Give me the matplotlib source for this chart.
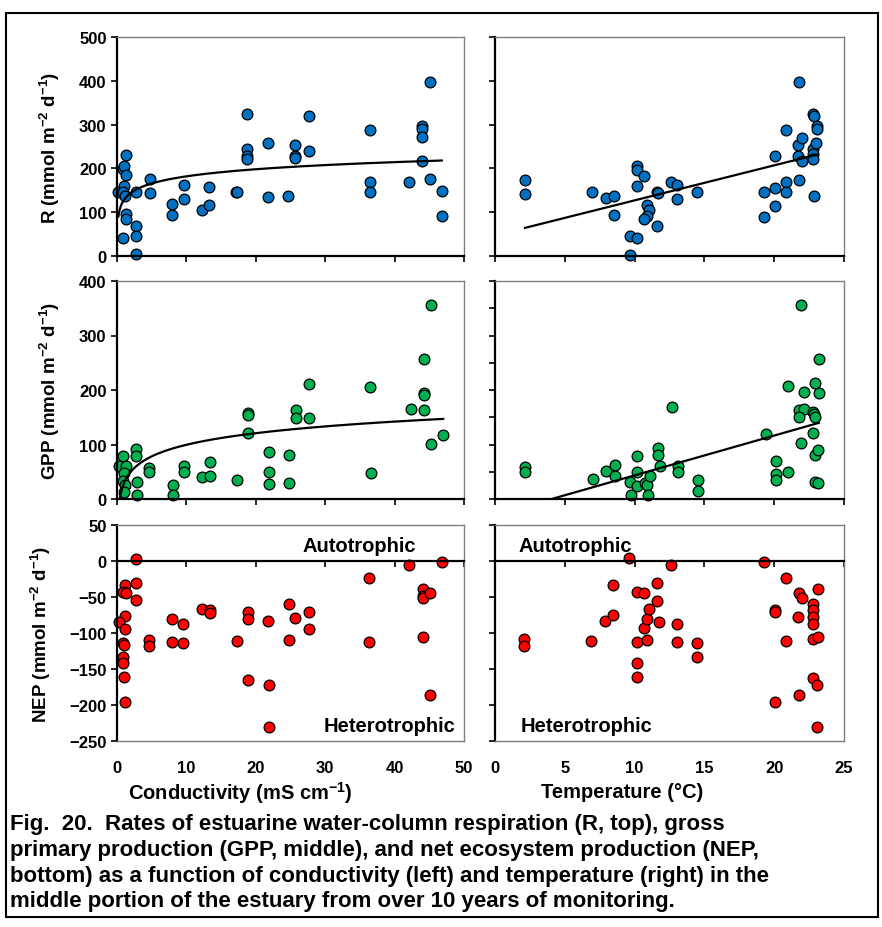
import numpy as np
import matplotlib.pyplot as plt
from matplotlib.patches import Rectangle

plt.rcParams['font.family'] = ['Liberation Sans', 'DejaVu Sans']
plt.rcParams['font.weight'] = 'bold'
plt.rcParams['axes.labelweight'] = 'bold'
plt.rcParams['mathtext.default'] = 'regular'

# ---- data ----
# R vs conductivity
r_cond = [0.2, 0.8, 1.0, 1.3, 1.3, 1.0, 0.9, 1.2, 1.3, 1.3, 0.8, 2.7, 2.8, 2.8, 2.8, 4.7, 4.7,
          7.9, 7.9, 9.6, 9.6, 12.3, 13.3, 13.3, 17.2, 17.3, 18.8, 18.8, 18.8, 18.8, 21.8, 21.7,
          24.7, 25.6, 25.6, 25.6, 27.7, 27.7, 36.4, 36.4, 36.4, 42.1, 44.0, 44.0, 44.0, 44.0,
          45.1, 45.1, 46.8, 46.8]
r_cond_val = [145, 199, 206, 231, 185, 160, 147, 136, 96, 84, 40, 145, 69, 46, 5, 176, 143,
              119, 94, 162, 131, 106, 157, 117, 147, 145, 324, 244, 229, 222, 258, 134,
              138, 253, 229, 224, 320, 240, 288, 170, 147, 170, 297, 290, 271, 218,
              398, 176, 149, 91]

# R vs temperature
r_temp = [2.15, 2.15, 6.93, 7.93, 8.52, 8.52, 9.67, 9.67, 10.15, 10.15, 10.15, 10.2, 10.7,
          10.87, 11.03, 10.87, 10.7, 11.63, 11.7, 11.63, 12.6, 13.04, 13.04, 14.45, 19.3, 19.3,
          20.06, 20.06, 20.06, 20.85, 20.85, 20.85, 21.73, 21.73, 21.8, 21.8, 21.97, 21.97,
          22.76, 22.85, 22.76, 22.76, 22.76, 22.85, 23.0, 23.1, 23.1]
r_temp_val = [173, 142, 147, 132, 137, 94, 45, 2, 206, 196, 160, 40, 183,
              117, 105, 92, 84, 145, 143, 68, 170, 162, 130, 147, 147, 88,
              229, 155, 115, 288, 170, 147, 253, 228, 398, 174, 269, 216,
              324, 319, 244, 232, 221, 138, 257, 296, 290]

# GPP vs conductivity
g_cond = [0.34, 0.82, 1.3, 1.0, 0.82, 1.2, 1.0, 2.8, 2.8, 2.9, 2.9, 4.65, 4.65, 8.0, 8.0,
          9.6, 9.6, 12.3, 13.4, 13.4, 17.3, 18.9, 18.9, 18.9, 21.9, 21.9, 21.9, 24.8, 24.8,
          25.8, 25.8, 27.7, 27.7, 36.5, 36.6, 42.3, 44.2, 44.2, 44.2, 44.2, 45.3, 45.3, 47.0]
g_cond_val = [61, 78, 61, 47, 33, 25, 13, 92, 79, 31, 7, 56, 50, 26, 7,
              60, 49, 40, 68, 43, 35, 158, 155, 121, 87, 50, 28, 80, 29,
              163, 148, 211, 148, 206, 48, 165, 256, 195, 190, 164, 356, 101, 117]

# GPP vs temperature
g_temp = [2.15, 2.15, 7.0, 7.95, 8.6, 8.6, 9.67, 9.72, 10.2, 10.2, 10.2, 10.75, 10.87, 10.98,
          11.1, 11.7, 11.7, 11.82, 12.66, 13.13, 13.13, 14.56, 14.56, 19.4, 20.13, 20.13,
          20.13, 20.97, 20.97, 21.9, 22.1, 21.8, 22.1, 21.8, 21.9, 22.8, 22.85, 22.9, 22.8,
          22.9, 23.16, 22.9, 23.16, 22.9, 23.2, 23.2]
g_temp_val = [58, 50, 37, 51, 62, 42, 31, 8, 78, 49, 23, 29, 26, 8,
              42, 93, 80, 60, 168, 60, 50, 34, 14, 119, 69, 45,
              35, 49, 208, 356, 196, 164, 166, 150, 103, 159, 156, 150, 122,
              81, 89, 31, 29, 213, 194, 257]

# NEP vs conductivity
n_cond = [2.74, 1.15, 0.82, 1.3, 2.74, 2.74, 1.2, 0.33, 1.2, 0.91, 1.0, 0.82, 0.82, 1.0, 1.2,
          4.65, 4.65, 7.88, 7.88, 9.55, 9.55, 12.25, 13.4, 13.4, 17.25, 18.83, 18.83, 18.83,
          21.7, 21.86, 21.86, 24.74, 24.74, 25.65, 27.67, 27.67, 36.35, 36.35, 42.1,
          44.05, 44.05, 44.05, 44.05, 45.1, 45.1, 46.8]
n_cond_val = [3, -34, -43, -45, -30, -54, -76, -85, -94, -114, -116, -134, -142, -161, -196,
              -110, -118, -81, -112, -88, -114, -66, -68, -72, -111, -71, -80, -165,
              -84, -172, -230, -60, -110, -79, -71, -94, -24, -112, -6,
              -39, -49, -52, -106, -44, -186, -2]

# NEP vs temperature
n_temp = [2.1, 2.1, 6.88, 7.88, 8.48, 8.48, 9.62, 10.15, 10.7, 10.15, 10.15, 10.15, 10.7,
          10.87, 10.87, 11.0, 11.63, 11.63, 11.72, 12.6, 13.04, 13.04, 14.45, 14.45, 19.3,
          20.06, 20.06, 20.06, 20.85, 20.85, 21.73, 21.8, 21.97, 21.8, 22.8, 22.8, 22.8,
          22.8, 22.8, 23.16, 23.16, 22.8, 23.04, 23.04]
n_temp_val = [-109, -118, -111, -84, -75, -33, 4, -43, -45, -113, -142, -161, -93,
              -81, -110, -66, -30, -55, -85, -5, -88, -113, -114, -134, -2,
              -68, -71, -196, -24, -111, -78, -44, -51, -186, -60, -68, -78,
              -88, -109, -106, -39, -162, -172, -230]

# trendline coefficients as printed in the figure (intercept, slope)
r_cond_trend = (128.0, 23.4)    # log fit
r_temp_trend = (47.0, 8.0)      # linear fit
g_cond_trend = (28.8, 30.7)     # log fit
g_temp_trend = (-29.6, 7.3)     # linear fit

BLUE, GREEN, RED = '#0070C0', '#00B050', '#FF0000'

W, H = 882, 928
fig = plt.figure(figsize=(W / 100, H / 100), dpi=100)


def add_ax(x0, y0, x1, y1):
    return fig.add_axes([x0 / W, 1 - y1 / H, (x1 - x0) / W, (y1 - y0) / H])


def style(ax, xlim, xticks, ylim, yticks, ylab=True):
    ax.set_xlim(xlim)
    ax.set_ylim(ylim)
    ax.set_xticks(xticks)
    ax.set_yticks(yticks)
    for s in ['top', 'right']:
        ax.spines[s].set_color('#7f7f7f')
        ax.spines[s].set_linewidth(1.0)
    for s in ['left', 'bottom']:
        ax.spines[s].set_color('black')
        ax.spines[s].set_linewidth(1.6)
    ax.tick_params(direction='out', length=4, width=1.2, labelsize=12,
                   labelbottom=False, labelleft=ylab)


def scatter(ax, x, y, c):
    ax.scatter(x, y, s=60, c=c, edgecolors='black', linewidths=0.9, zorder=2, clip_on=False)


def log_trend(ax, x, coef):
    xs = np.linspace(min(x), max(x), 300)
    ax.plot(xs, coef[0] + coef[1] * np.log(xs), color='black', lw=1.6, zorder=3)


def lin_trend(ax, x, coef):
    xs = np.array([min(x), max(x)])
    ax.plot(xs, coef[0] + coef[1] * xs, color='black', lw=1.6, zorder=3)


cond_ticks = [0, 10, 20, 30, 40, 50]
temp_ticks = [0, 5, 10, 15, 20, 25]

ax_rc = add_ax(117, 38, 464, 257)
ax_rt = add_ax(495, 38, 844, 257)
ax_gc = add_ax(117, 282, 464, 500)
ax_gt = add_ax(495, 282, 844, 500)
ax_nc = add_ax(117, 526, 464, 742)
ax_nt = add_ax(495, 526, 844, 742)

# R
style(ax_rc, (0, 50), cond_ticks, (0, 500), range(0, 501, 100))
style(ax_rt, (0, 25), temp_ticks, (0, 500), range(0, 501, 100), ylab=False)
scatter(ax_rc, r_cond, r_cond_val, BLUE)
scatter(ax_rt, r_temp, r_temp_val, BLUE)
log_trend(ax_rc, r_cond, r_cond_trend)
lin_trend(ax_rt, r_temp, r_temp_trend)

# GPP
style(ax_gc, (0, 50), cond_ticks, (0, 400), range(0, 401, 100))
style(ax_gt, (0, 25), temp_ticks, (0, 400), range(0, 401, 50), ylab=False)
scatter(ax_gc, g_cond, g_cond_val, GREEN)
scatter(ax_gt, g_temp, g_temp_val, GREEN)
log_trend(ax_gc, g_cond, g_cond_trend)
lin_trend(ax_gt, g_temp, g_temp_trend)

# NEP: axis crosses at zero, labels at the bottom
for ax, xlim, ticks, x, y in [(ax_nc, (0, 50), cond_ticks, n_cond, n_cond_val),
                              (ax_nt, (0, 25), temp_ticks, n_temp, n_temp_val)]:
    style(ax, xlim, ticks, (-250, 50), range(-250, 51, 50), ylab=(ax is ax_nc))
    ax.spines['bottom'].set_position(('data', 0))
    scatter(ax, x, y, RED)
    ax2 = ax.twiny()
    ax2.set_xlim(xlim)
    ax2.set_xticks(ticks)
    ax2.xaxis.set_ticks_position('bottom')
    ax2.tick_params(length=0, labelsize=12, pad=14, labelbottom=True, labeltop=False)
    for s in ['top', 'left', 'right']:
        ax2.spines[s].set_visible(False)
    ax2.spines['bottom'].set_color('#7f7f7f')
    ax2.spines['bottom'].set_linewidth(1.0)

ax_nc.text(0.862, 0.907, 'Autotrophic', transform=ax_nc.transAxes, ha='right', va='center', fontsize=14.5)
ax_nc.text(0.974, 0.07, 'Heterotrophic', transform=ax_nc.transAxes, ha='right', va='center', fontsize=14.5)
ax_nt.text(0.066, 0.907, 'Autotrophic', transform=ax_nt.transAxes, ha='left', va='center', fontsize=14.5)
ax_nt.text(0.072, 0.07, 'Heterotrophic', transform=ax_nt.transAxes, ha='left', va='center', fontsize=14.5)

unit = ' (mmol m$^{-2}$ d$^{-1}$)'
for ax, name in [(ax_rc, 'R'), (ax_gc, 'GPP'), (ax_nc, 'NEP')]:
    ax.set_ylabel(name + unit, fontsize=13.5, fontweight='bold', labelpad=12)

fig.text(240 / W, 1 - 793 / H, 'Conductivity (mS cm$^{-1}$)', ha='center', va='center', fontsize=14.5)
fig.text(622 / W, 1 - 793 / H, 'Temperature (\u00b0C)', ha='center', va='center', fontsize=14.5)

caption = ('Fig.  20.  Rates of estuarine water-column respiration (R, top), gross\n'
           'primary production (GPP, middle), and net ecosystem production (NEP,\n'
           'bottom) as a function of conductivity (left) and temperature (right) in the\n'
           'middle portion of the estuary from over 10 years of monitoring.')
fig.text(10 / W, 1 - 814 / H, caption, ha='left', va='top', fontsize=16, linespacing=1.3)

fig.add_artist(Rectangle((6 / W, 1 - 918 / H), 872 / W, 904 / H, transform=fig.transFigure,
                         fill=False, lw=1.5, ec='black'))

fig.savefig('out.png', dpi=100)
